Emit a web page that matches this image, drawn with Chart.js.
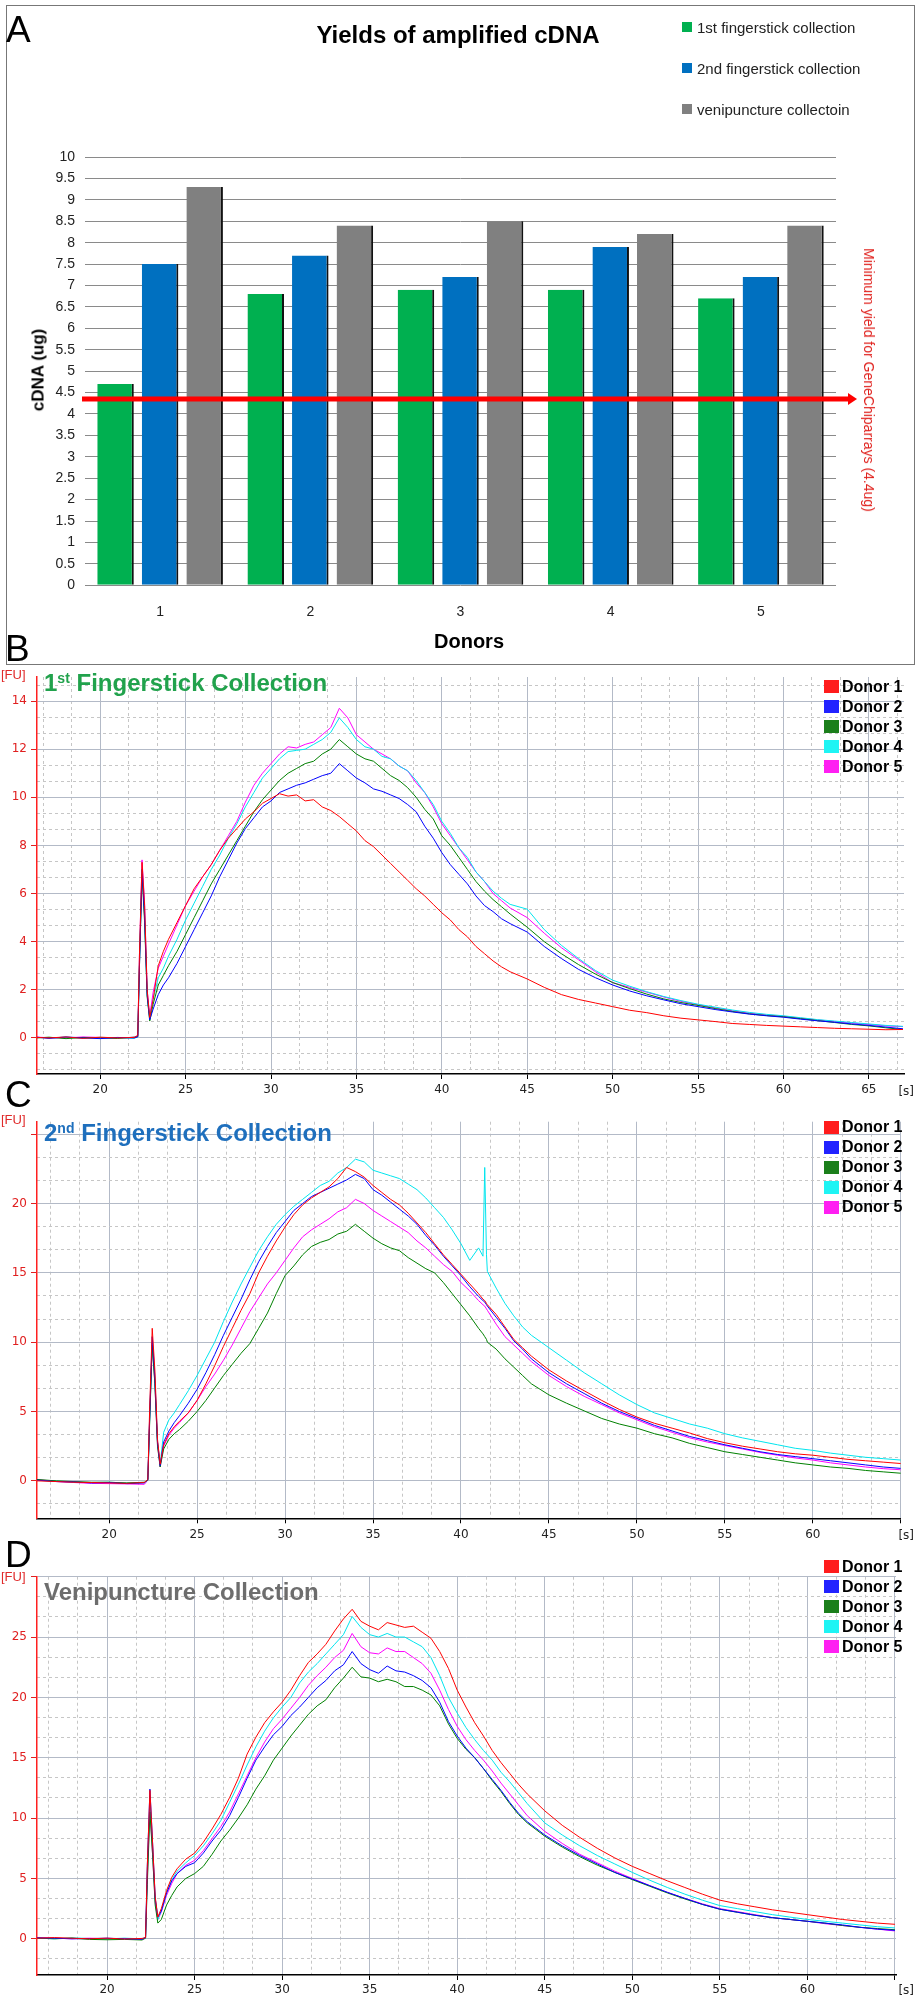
<!DOCTYPE html>
<html>
<head>
<meta charset="utf-8">
<title>cDNA yields and electropherograms</title>
<script src="https://cdn.jsdelivr.net/npm/chart.js@4.4.1/dist/chart.umd.min.js"></script>
<style>
  body { margin: 0; background: #fff; }
  #page { position: relative; width: 920px; height: 2000px; overflow: hidden; font-family: 'Liberation Sans', Arial, sans-serif; color: #000; }
  #page canvas { position: absolute; left: 0; }
  .txt { position: absolute; white-space: nowrap; line-height: 1; z-index: 2; }
  .txt sup { line-height: 0; font-size: 14px; vertical-align: 8px; }
  .swatch { position: absolute; z-index: 2; }
  #frameA { position: absolute; left: 6px; top: 5px; width: 907px; height: 658px; border: 1px solid #777; }
</style>
</head>
<body>
<div id="page">
  <div id="frameA"></div>
  <canvas id="chartA" width="920" height="664" style="top:0"></canvas>
  <canvas id="chartB" width="920" height="440" style="top:665px"></canvas>
  <canvas id="chartC" width="920" height="440" style="top:1110px"></canvas>
  <canvas id="chartD" width="920" height="436" style="top:1564px"></canvas>
</div>
<script>
// ---- panel A: yields of amplified cDNA (ug) ----
const DONORS = ['1', '2', '3', '4', '5'];
const YIELD_LABELS = ['1st fingerstick collection', '2nd fingerstick collection', 'venipuncture collectoin'];
const FIRST_FINGERSTICK = [4.7, 6.8, 6.9, 6.9, 6.7];
const SECOND_FINGERSTICK = [7.5, 7.7, 7.2, 7.9, 7.2];
const VENIPUNCTURE = [9.3, 8.4, 8.5, 8.2, 8.4];
const MIN_YIELD = 4.35;

// ---- panel B: 1st fingerstick traces ([s] vs [FU]) ----
const TIME_B = [16.3, 17, 18, 19, 20, 21, 22, 22.2, 22.3, 22.45, 22.6, 22.75, 22.9, 23.1, 23.4, 23.7,
  24, 24.5, 25, 25.5, 26, 26.5, 27, 27.5, 28, 28.5, 29, 29.5, 30, 30.5, 31, 31.5, 32, 32.5, 33, 33.5,
  34, 34.5, 35, 35.5, 36, 36.5, 37, 37.5, 38, 38.5, 39, 39.5, 40, 40.5, 41, 41.5, 42, 42.5, 43, 43.5, 44,
  45, 46, 47, 48, 49, 50, 51, 52, 53, 54, 55, 56, 57, 58, 59, 60, 61, 62, 63, 64, 65, 66, 67];
const B_DONOR1 = [0.02, 0.0, 0.04, -0.02, 0.03, 0.0, 0.02, 0.1, 3.5, 7.3, 5.5, 2.0, 0.85, 1.6, 3.0, 3.6,
  4.1, 4.8, 5.5, 6.2, 6.7, 7.2, 7.8, 8.3, 8.7, 9.1, 9.4, 9.75, 9.95, 10.15, 10.05, 10.1, 9.85, 9.9, 9.6, 9.45,
  9.2, 8.9, 8.6, 8.2, 7.95, 7.6, 7.25, 6.9, 6.55, 6.2, 5.9, 5.55, 5.2, 4.9, 4.5, 4.2, 3.8, 3.5, 3.2, 2.95, 2.75,
  2.45, 2.1, 1.8, 1.6, 1.45, 1.3, 1.15, 1.05, 0.92, 0.82, 0.75, 0.68, 0.6, 0.56, 0.52, 0.49, 0.46, 0.43, 0.4, 0.38, 0.36, 0.34, 0.35];
const B_DONOR2 = [0.03, -0.02, 0.04, 0.0, -0.03, 0.02, 0.0, 0.05, 3.0, 7.0, 5.0, 1.8, 0.75, 1.2, 1.8, 2.2,
  2.5, 3.1, 3.8, 4.5, 5.2, 5.9, 6.7, 7.4, 8.1, 8.7, 9.15, 9.6, 9.85, 10.2, 10.35, 10.5, 10.6, 10.75, 10.9, 11.0,
  11.4, 11.1, 10.8, 10.6, 10.35, 10.25, 10.1, 9.95, 9.7, 9.4, 8.8, 8.3, 7.7, 7.2, 6.8, 6.4, 5.9, 5.5, 5.25, 4.95, 4.75,
  4.4, 3.8, 3.3, 2.85, 2.5, 2.2, 1.95, 1.75, 1.58, 1.42, 1.3, 1.18, 1.08, 0.99, 0.92, 0.86, 0.78, 0.71, 0.65, 0.58, 0.52, 0.45, 0.38];
const B_DONOR3 = [0.0, 0.03, -0.03, 0.02, 0.0, -0.02, 0.03, 0.05, 3.0, 6.8, 4.8, 1.7, 0.7, 1.4, 2.2, 2.6,
  3.0, 3.6, 4.3, 5.0, 5.7, 6.4, 7.0, 7.6, 8.2, 8.8, 9.4, 9.9, 10.3, 10.7, 11.0, 11.2, 11.4, 11.5, 11.8, 12.0,
  12.4, 12.1, 11.8, 11.6, 11.5, 11.2, 10.9, 10.7, 10.4, 10.0, 9.5, 9.1, 8.4, 8.0, 7.5, 7.0, 6.5, 6.1, 5.75, 5.45, 5.15,
  4.6, 4.0, 3.5, 3.05, 2.65, 2.3, 2.05, 1.82, 1.62, 1.47, 1.35, 1.22, 1.1, 1.0, 0.93, 0.88, 0.8, 0.72, 0.64, 0.56, 0.5, 0.42, 0.35];
const B_DONOR4 = [0.02, 0.0, 0.03, -0.02, 0.02, 0.01, -0.02, 0.05, 3.2, 7.0, 5.2, 1.8, 0.8, 1.6, 2.5, 2.9,
  3.4, 4.1, 4.9, 5.6, 6.3, 7.0, 7.6, 8.3, 8.9, 9.6, 10.2, 10.8, 11.2, 11.6, 11.9, 11.95, 12.0, 12.2, 12.4, 12.7,
  13.3, 12.9, 12.4, 12.1, 12.0, 11.7, 11.6, 11.3, 11.1, 10.7, 10.2, 9.7, 9.0, 8.5, 7.9, 7.5, 6.9, 6.5, 6.1, 5.8, 5.55,
  5.35, 4.5, 3.85, 3.3, 2.8, 2.4, 2.15, 1.92, 1.72, 1.55, 1.4, 1.28, 1.16, 1.06, 0.98, 0.92, 0.84, 0.76, 0.7, 0.64, 0.58, 0.52, 0.48];
const B_DONOR5 = [0.03, 0.01, 0.0, 0.04, 0.02, -0.01, 0.03, 0.1, 3.5, 7.4, 5.6, 2.0, 0.9, 1.9, 2.9, 3.4,
  3.9, 4.7, 5.5, 6.1, 6.7, 7.2, 7.8, 8.4, 9.0, 9.8, 10.5, 11.0, 11.4, 11.8, 12.1, 12.05, 12.2, 12.3, 12.6, 12.9,
  13.7, 13.3, 12.6, 12.3, 12.0, 11.8, 11.6, 11.3, 11.1, 10.6, 10.2, 9.6, 8.9, 8.4, 7.9, 7.4, 6.9, 6.5, 6.0, 5.7, 5.4,
  5.0, 4.35, 3.75, 3.25, 2.75, 2.3, 2.1, 1.9, 1.7, 1.52, 1.38, 1.25, 1.13, 1.03, 0.96, 0.9, 0.82, 0.75, 0.68, 0.62, 0.56, 0.5, 0.47];

// ---- panel C: 2nd fingerstick traces ----
const TIME_C = [15.9, 17, 18, 19, 20, 21, 22, 22.2, 22.3, 22.45, 22.6, 22.75, 22.9, 23.1, 23.4, 23.7,
  24, 24.5, 25, 25.5, 26, 26.5, 27, 27.5, 28, 28.5, 29, 29.5, 30, 30.5, 31, 31.5, 32, 32.5, 33, 33.5,
  34, 34.5, 35, 35.5, 36, 36.5, 37, 37.5, 38, 38.5, 39, 39.5, 40, 40.5, 41, 41.25, 41.35, 41.45, 41.5, 42, 42.5, 43, 43.5, 44,
  45, 46, 47, 48, 49, 50, 51, 52, 53, 54, 55, 56, 57, 58, 59, 60, 61, 62, 63, 64, 65];
const C_DONOR1 = [0.0, -0.05, -0.1, -0.12, -0.15, -0.18, -0.12, 0.1, 5.0, 11.0, 8.0, 3.0, 1.2, 2.6, 3.4, 3.9,
  4.3, 4.9, 5.8, 7.0, 8.3, 9.7, 11.0, 12.3, 13.5, 15.0, 16.2, 17.3, 18.3, 19.2, 19.9, 20.4, 20.8, 21.2, 21.8, 22.6,
  22.3, 21.9, 21.3, 20.8, 20.3, 19.9, 19.3, 18.6, 17.9, 17.1, 16.3, 15.6, 14.9, 14.2, 13.5, 13.1, 13.0, 12.8, 12.7, 12.0, 11.1, 10.2, 9.6, 9.0,
  8.0, 7.2, 6.5, 5.8, 5.15, 4.6, 4.15, 3.8, 3.45, 3.05, 2.75, 2.5, 2.3, 2.1, 1.95, 1.85, 1.7, 1.55, 1.45, 1.35, 1.25];
const C_DONOR2 = [0.05, -0.05, -0.08, -0.15, -0.12, -0.2, -0.15, 0.1, 4.5, 10.4, 7.5, 2.8, 1.1, 2.8, 3.6, 4.2,
  4.7, 5.6, 6.6, 7.8, 9.1, 10.5, 11.8, 13.1, 14.5, 15.8, 16.9, 17.9, 18.7, 19.5, 20.0, 20.5, 20.8, 21.1, 21.4, 21.7,
  22.1, 21.8, 21.0, 20.6, 20.1, 19.6, 19.1, 18.5, 17.7, 17.0, 16.2, 15.5, 14.8, 14.0, 13.3, 13.0, 12.9, 12.7, 12.6, 11.8, 11.0, 10.1, 9.5, 8.8,
  7.8, 7.0, 6.3, 5.6, 5.0, 4.5, 4.0, 3.6, 3.2, 2.9, 2.6, 2.35, 2.1, 1.9, 1.75, 1.6, 1.45, 1.3, 1.15, 1.0, 0.9];
const C_DONOR3 = [0.1, 0.0, -0.05, -0.1, -0.1, -0.15, -0.1, 0.05, 4.0, 9.8, 7.0, 2.5, 1.0, 2.3, 3.0, 3.4,
  3.7, 4.3, 5.0, 5.8, 6.7, 7.6, 8.4, 9.2, 9.9, 11.0, 12.1, 13.5, 14.8, 15.5, 16.3, 16.9, 17.2, 17.4, 17.8, 18.0,
  18.5, 18.0, 17.5, 17.1, 16.8, 16.6, 16.1, 15.7, 15.3, 15.0, 14.3, 13.5, 12.7, 11.9, 11.0, 10.6, 10.4, 10.2, 10.0, 9.5, 8.8, 8.2, 7.6, 7.0,
  6.2, 5.6, 5.05, 4.5, 4.1, 3.8, 3.4, 3.1, 2.7, 2.4, 2.1, 1.9, 1.7, 1.5, 1.3, 1.15, 1.0, 0.9, 0.75, 0.65, 0.55];
const C_DONOR4 = [0.05, -0.02, -0.08, -0.12, -0.1, -0.15, -0.12, 0.05, 4.2, 10.0, 7.2, 2.8, 1.2, 3.5, 4.4, 4.9,
  5.5, 6.5, 7.6, 8.8, 10.0, 11.5, 12.9, 14.2, 15.4, 16.6, 17.6, 18.5, 19.2, 19.8, 20.3, 20.8, 21.3, 21.6, 22.2, 22.6,
  23.2, 23.0, 22.4, 22.2, 22.0, 21.8, 21.4, 21.0, 20.4, 19.7, 19.0, 18.1, 17.1, 15.9, 16.8, 16.2, 22.6, 16.3, 15.1, 13.9, 12.8, 11.9, 11.1, 10.5,
  9.6, 8.7, 7.8, 7.0, 6.2, 5.5, 4.9, 4.5, 4.1, 3.8, 3.4, 3.1, 2.85, 2.6, 2.35, 2.2, 2.0, 1.85, 1.7, 1.6, 1.5];
const C_DONOR5 = [0.1, -0.05, -0.12, -0.18, -0.2, -0.22, -0.25, 0.05, 4.3, 10.0, 7.0, 2.6, 1.0, 2.5, 3.3, 3.8,
  4.2, 4.9, 5.8, 6.8, 7.7, 8.7, 9.8, 11.0, 12.2, 13.2, 14.2, 15.0, 15.9, 16.8, 17.6, 18.1, 18.5, 18.9, 19.4, 19.7,
  20.3, 20.0, 19.5, 19.1, 18.7, 18.3, 17.9, 17.3, 16.8, 16.2, 15.6, 15.1, 14.3, 13.7, 13.0, 12.7, 12.6, 12.4, 12.3, 11.3, 10.4, 9.8, 9.2, 8.6,
  7.6, 6.8, 6.1, 5.5, 4.9, 4.4, 3.9, 3.5, 3.1, 2.8, 2.55, 2.3, 2.05, 1.85, 1.65, 1.5, 1.3, 1.15, 1.0, 0.88, 0.8];

// ---- panel D: venipuncture traces ----
const TIME_D = [16, 17, 18, 19, 20, 21, 22, 22.2, 22.3, 22.45, 22.6, 22.75, 22.9, 23.1, 23.4, 23.7,
  24, 24.5, 25, 25.5, 26, 26.5, 27, 27.5, 28, 28.5, 29, 29.5, 30, 30.5, 31, 31.5, 32, 32.5, 33, 33.5,
  34, 34.5, 35, 35.5, 36, 36.5, 37, 37.5, 38, 38.5, 39, 39.5, 40, 40.5, 41, 41.5, 42, 42.5, 43, 43.5, 44,
  45, 46, 47, 48, 49, 50, 51, 52, 53, 54, 55, 56, 57, 58, 59, 60, 61, 62, 63, 64, 65];
const D_DONOR1 = [0.05, 0.1, 0.05, 0.0, 0.05, -0.02, 0.03, 0.1, 6.0, 12.3, 8.0, 3.5, 1.8, 2.5, 4.0, 5.1,
  5.8, 6.6, 7.1, 8.0, 9.1, 10.3, 11.7, 13.3, 15.3, 16.7, 17.9, 18.8, 19.6, 20.6, 21.8, 22.9, 23.6, 24.4, 25.5, 26.5,
  27.3, 26.3, 25.9, 25.6, 26.2, 26.0, 25.8, 25.9, 25.4, 24.9, 23.8, 22.4, 20.6, 19.2, 17.9, 16.8, 15.6, 14.6, 13.7, 12.8, 12.0,
  10.6, 9.4, 8.4, 7.5, 6.7, 6.0, 5.4, 4.8, 4.25, 3.7, 3.2, 2.9, 2.65, 2.4, 2.2, 2.0, 1.8, 1.6, 1.45, 1.3, 1.2];
const D_DONOR2 = [0.08, 0.05, 0.0, 0.02, 0.05, 0.0, -0.03, 0.1, 6.0, 12.4, 8.0, 3.4, 1.8, 2.3, 3.8, 4.8,
  5.4, 6.0, 6.3, 7.1, 8.1, 9.0, 10.2, 11.7, 13.3, 14.8, 15.9, 16.9, 17.6, 18.5, 19.2, 20.0, 20.8, 21.4, 22.2, 22.7,
  23.8, 22.8, 22.3, 22.0, 22.6, 22.2, 22.1, 21.8, 21.4, 20.8, 19.6, 18.0, 16.8, 15.8, 15.0, 14.1, 13.2, 12.3, 11.3, 10.4, 9.7,
  8.6, 7.7, 6.9, 6.2, 5.5, 4.95, 4.4, 3.85, 3.35, 2.85, 2.45, 2.2, 1.95, 1.75, 1.6, 1.45, 1.3, 1.15, 0.95, 0.8, 0.7];
const D_DONOR3 = [0.05, 0.0, 0.05, -0.05, -0.08, -0.05, -0.1, 0.05, 4.5, 10.5, 7.0, 2.8, 1.3, 1.6, 2.8, 3.6,
  4.3, 5.0, 5.4, 6.0, 7.0, 8.1, 9.0, 10.0, 11.1, 12.4, 13.5, 14.8, 15.8, 16.8, 17.7, 18.6, 19.3, 19.8, 20.8, 21.6,
  22.5, 21.7, 21.6, 21.3, 21.5, 21.3, 20.9, 20.9, 20.6, 20.2, 19.3, 17.8, 16.6, 15.7, 15.0, 14.1, 13.1, 12.2, 11.2, 10.3, 9.6,
  8.5, 7.6, 6.8, 6.1, 5.5, 4.9, 4.35, 3.8, 3.3, 2.85, 2.45, 2.2, 1.95, 1.75, 1.6, 1.45, 1.3, 1.1, 0.95, 0.85, 0.75];
const D_DONOR4 = [0.05, 0.0, 0.08, 0.02, 0.0, 0.05, 0.0, 0.1, 5.5, 11.5, 7.5, 3.2, 1.6, 2.3, 3.8, 4.9,
  5.6, 6.3, 6.9, 7.7, 8.7, 9.8, 11.3, 12.8, 14.4, 15.9, 17.2, 18.3, 19.2, 20.0, 21.2, 22.1, 22.8, 23.6, 24.4, 25.2,
  26.7, 25.8, 25.2, 25.0, 25.3, 25.0, 25.0, 24.6, 24.2, 23.3, 21.8, 20.0, 18.7, 17.5, 16.5, 15.6, 14.8, 13.8, 13.0, 12.1, 11.2,
  9.6, 8.6, 7.7, 6.9, 6.2, 5.5, 4.85, 4.25, 3.7, 3.2, 2.75, 2.5, 2.25, 2.0, 1.8, 1.6, 1.45, 1.3, 1.15, 1.0, 0.9];
const D_DONOR5 = [0.1, 0.05, 0.0, 0.05, 0.0, 0.03, -0.05, 0.1, 5.0, 11.0, 7.0, 3.0, 1.6, 2.2, 3.6, 4.6,
  5.4, 6.1, 6.5, 7.3, 8.3, 9.3, 10.5, 12.0, 13.5, 15.0, 16.3, 17.4, 18.2, 19.1, 20.0, 21.0, 21.8, 22.5, 23.3, 23.9,
  25.3, 24.2, 23.7, 23.6, 24.1, 23.8, 23.8, 23.3, 22.8, 22.0, 20.6, 19.0, 17.6, 16.5, 15.6, 14.8, 13.9, 12.9, 12.0, 11.1, 10.2,
  8.9, 7.9, 7.0, 6.3, 5.6, 5.0, 4.4, 3.85, 3.35, 2.9, 2.5, 2.25, 2.0, 1.75, 1.6, 1.45, 1.25, 1.1, 0.95, 0.8, 0.65];

const DONOR_LABELS = ['Donor 1', 'Donor 2', 'Donor 3', 'Donor 4', 'Donor 5'];
const LINE_COLORS = ['#ff0000', '#0000ff', '#008000', '#00e5ee', '#ff00ff'];
const SWATCH_COLORS = ['#ff1c1c', '#2222ff', '#1b7f1b', '#1ef4f4', '#ff1ff2'];

const FONT = "'Liberation Sans', Arial, sans-serif";
const TICK_FONT = "'DejaVu Sans', Verdana, sans-serif";
const MAJOR_GRID = '#b3bac7';
const MINOR_GRID = '#c6c6c6';

const page = document.getElementById('page');

function addText(html, x, baseline, size, align, extra) {
  const el = document.createElement('div');
  el.className = 'txt';
  el.innerHTML = html;
  el.style.fontSize = size + 'px';
  el.style.top = (baseline - 0.8465 * size) + 'px';
  if (align === 'right') el.style.right = (920 - x) + 'px';
  else el.style.left = x + 'px';
  if (align === 'center') el.style.transform = 'translateX(-50%)';
  Object.assign(el.style, extra || {});
  page.appendChild(el);
}

function addRotated(text, cx, cy, size, angle, extra) {
  const el = document.createElement('div');
  el.className = 'txt';
  el.textContent = text;
  el.style.fontSize = size + 'px';
  el.style.left = cx + 'px';
  el.style.top = cy + 'px';
  el.style.transform = 'translate(-50%, -50%) rotate(' + angle + 'deg)';
  Object.assign(el.style, extra || {});
  page.appendChild(el);
}

function addSwatch(x, cy, w, h, color) {
  const el = document.createElement('div');
  el.className = 'swatch';
  Object.assign(el.style, { left: x + 'px', top: (cy - h / 2) + 'px', width: w + 'px', height: h + 'px', background: color });
  page.appendChild(el);
}

function steps(lo, hi, step) {
  const out = [];
  for (let k = Math.ceil(lo / step - 1e-9); k * step <= hi + 1e-9; k++) out.push(+(k * step).toFixed(4));
  return out;
}
const onStep = (v, step) => Math.abs(v / step - Math.round(v / step)) < 1e-6;

// red threshold line with arrow head
const thresholdLine = {
  id: 'thresholdLine',
  afterDatasetsDraw(chart) {
    const { ctx, chartArea } = chart;
    const py = chart.scales.y.getPixelForValue(MIN_YIELD);
    const x0 = chartArea.left - 3;
    const x1 = chartArea.right + 12;
    ctx.save();
    ctx.fillStyle = '#ff0000';
    ctx.fillRect(x0, py - 2.5, x1 - x0, 5);
    ctx.beginPath();
    ctx.moveTo(x1, py - 6);
    ctx.lineTo(x1 + 9, py);
    ctx.lineTo(x1, py + 6);
    ctx.closePath();
    ctx.fill();
    ctx.restore();
  }
};

const barColors = ['#00b050', '#0070c0', '#808080'];
new Chart(document.getElementById('chartA'), {
  type: 'bar',
  data: {
    labels: DONORS,
    datasets: [FIRST_FINGERSTICK, SECOND_FINGERSTICK, VENIPUNCTURE].map((vals, i) => ({
      label: YIELD_LABELS[i],
      data: vals,
      backgroundColor: barColors[i],
      borderColor: '#111',
      borderWidth: { top: 0, right: 2, bottom: 0, left: 0 }
    }))
  },
  options: {
    responsive: false,
    animation: false,
    devicePixelRatio: 1,
    layout: { padding: { top: 157, right: 84, left: 0, bottom: 0 } },
    datasets: { bar: { categoryPercentage: 0.89, barPercentage: 0.82 } },
    plugins: { legend: { display: false }, tooltip: { enabled: false } },
    scales: {
      x: {
        grid: { display: false },
        border: { display: false },
        ticks: { color: '#222', font: { family: FONT, size: 14 }, padding: 10 },
        afterFit: s => { s.height = 78.7; }
      },
      y: {
        min: 0, max: 10,
        ticks: { stepSize: 0.5, autoSkip: false, color: '#222', font: { family: FONT, size: 14 }, padding: 10,
                 callback: v => String(Math.round(v * 10) / 10) },
        grid: { color: '#8a8a8a', drawTicks: false },
        border: { display: false },
        afterFit: s => { s.width = 85; }
      }
    }
  },
  plugins: [thresholdLine]
});

const PANELS = [
  { id: 'chartB', times: TIME_B, series: [B_DONOR1, B_DONOR2, B_DONOR3, B_DONOR4, B_DONOR5],
    padTop: 12, padRight: 16, xHeight: 31, xPad: 4,
    xMin: 16.3, xMax: 67.06, xLastLabel: 65, yMin: -1.5, yMax: 15, yStep: 2, yLabelMax: 14 },
  { id: 'chartC', times: TIME_C, series: [C_DONOR1, C_DONOR2, C_DONOR3, C_DONOR4, C_DONOR5],
    padTop: 11.7, padRight: 19.2, xHeight: 31.7, xPad: 4,
    xMin: 15.9, xMax: 65, xLastLabel: 60, yMin: -2.7, yMax: 25.9, yStep: 5, yLabelMax: 20 },
  { id: 'chartD', times: TIME_D, series: [D_DONOR1, D_DONOR2, D_DONOR3, D_DONOR4, D_DONOR5],
    padTop: 12.7, padRight: 24, xHeight: 25, xPad: 3,
    xMin: 16, xMax: 65.06, xLastLabel: 60, yMin: -3, yMax: 30, yStep: 5, yLabelMax: 25 }
];

function drawTrace(p) {
  const xMajor = steps(20, p.xMax, 5);
  const xMinor = steps(p.xMin, p.xMax, 5 / 3).filter(v => !onStep(v, 5));
  const yMajor = steps(0, p.yMax, p.yStep);
  const yMinor = steps(p.yMin, p.yMax, p.yStep / 3).filter(v => !onStep(v, p.yStep));
  const toTicks = arr => s => { s.ticks = arr.map(v => ({ value: v })); };

  new Chart(document.getElementById(p.id), {
    type: 'line',
    data: {
      datasets: p.series.map((vals, i) => ({
        label: DONOR_LABELS[i],
        data: p.times.map((t, k) => ({ x: t, y: vals[k] })),
        borderColor: LINE_COLORS[i],
        borderWidth: 1,
        pointRadius: 0,
        tension: 0
      }))
    },
    options: {
      responsive: false,
      animation: false,
      devicePixelRatio: 1,
      layout: { padding: { top: p.padTop, right: p.padRight, left: 0, bottom: 0 } },
      plugins: { legend: { display: false }, tooltip: { enabled: false } },
      scales: {
        x: {
          type: 'linear', position: 'bottom', min: p.xMin, max: p.xMax,
          afterBuildTicks: toTicks(xMajor),
          ticks: { autoSkip: false, maxRotation: 0, padding: p.xPad, color: '#222',
                   font: { family: TICK_FONT, size: 12 },
                   callback: v => (v <= p.xLastLabel ? v : '') },
          grid: { color: MAJOR_GRID, tickColor: '#000', tickLength: 5 },
          border: { color: '#000', width: 1.5 },
          afterFit: s => { s.height = p.xHeight; }
        },
        xMinor: {
          type: 'linear', axis: 'x', position: 'bottom', min: p.xMin, max: p.xMax,
          afterBuildTicks: toTicks(xMinor),
          ticks: { display: false },
          grid: { color: MINOR_GRID, drawTicks: false },
          border: { display: false, dash: [3, 3] },
          afterFit: s => { s.height = 0; }
        },
        y: {
          type: 'linear', position: 'left', min: p.yMin, max: p.yMax,
          afterBuildTicks: toTicks(yMajor),
          ticks: { autoSkip: false, padding: 4, color: '#e02020',
                   font: { family: TICK_FONT, size: 12 },
                   callback: v => (v <= p.yLabelMax ? v : '') },
          grid: { color: MAJOR_GRID, tickColor: '#e02020', tickLength: 6 },
          border: { color: '#ff2020', width: 1.5 },
          afterFit: s => { s.width = 37; }
        },
        yMinor: {
          type: 'linear', axis: 'y', position: 'left', min: p.yMin, max: p.yMax,
          afterBuildTicks: toTicks(yMinor),
          ticks: { display: false },
          grid: { color: MINOR_GRID, drawTicks: false },
          border: { display: false, dash: [3, 3] },
          afterFit: s => { s.width = 0; }
        }
      }
    }
  });
}
PANELS.forEach(drawTrace);

// ---- text of panel A ----
addText('A', 6, 42, 37);
addText('Yields of amplified cDNA', 458, 43, 24, 'center', { fontWeight: 'bold' });
[27.4, 68.4, 109.4].forEach((cy, i) => {
  addSwatch(682, cy, 10, 10, barColors[i]);
  addText(YIELD_LABELS[i], 697, cy + 5, 15, 'left', { color: '#222' });
});
addRotated('cDNA (ug)', 38, 370, 17, -90, { fontWeight: 'bold' });
addText('Donors', 469, 648, 20, 'center', { fontWeight: 'bold' });
addRotated('Minimum yield for GeneChiparrays (4.4ug)', 869, 380, 14, 90, { color: '#e0221e' });

// ---- text of the trace panels ----
const TRACE_TEXT = [
  { letter: 'B', letterBase: 661, fuBase: 679.5, title: '1<sup>st</sup> Fingerstick Collection',
    titleBase: 691.7, titleColor: '#21a24c', legendTop: 686.7, sBase: 1095 },
  { letter: 'C', letterBase: 1107, fuBase: 1124.5, title: '2<sup>nd</sup> Fingerstick Collection',
    titleBase: 1141, titleColor: '#1e6fbd', legendTop: 1127, sBase: 1539.5 },
  { letter: 'D', letterBase: 1567, fuBase: 1581, title: 'Venipuncture Collection',
    titleBase: 1600, titleColor: '#6d6d6d', legendTop: 1566.7, sBase: 1994.5 }
];
TRACE_TEXT.forEach(t => {
  addText(t.letter, 5, t.letterBase, 37);
  addText('[FU]', 1, t.fuBase, 13, 'left', { color: '#e02a2a' });
  addText(t.title, 44, t.titleBase, 24, 'left', { fontWeight: 'bold', color: t.titleColor });
  DONOR_LABELS.forEach((lab, i) => {
    const cy = t.legendTop + 20 * i;
    addSwatch(824, cy, 15, 13, SWATCH_COLORS[i]);
    addText(lab, 842, cy + 5.6, 16, 'left', { fontWeight: 'bold' });
  });
  addText('[s]', 914, t.sBase, 12, 'right', { fontFamily: TICK_FONT, color: '#222' });
});
</script>
</body>
</html>
